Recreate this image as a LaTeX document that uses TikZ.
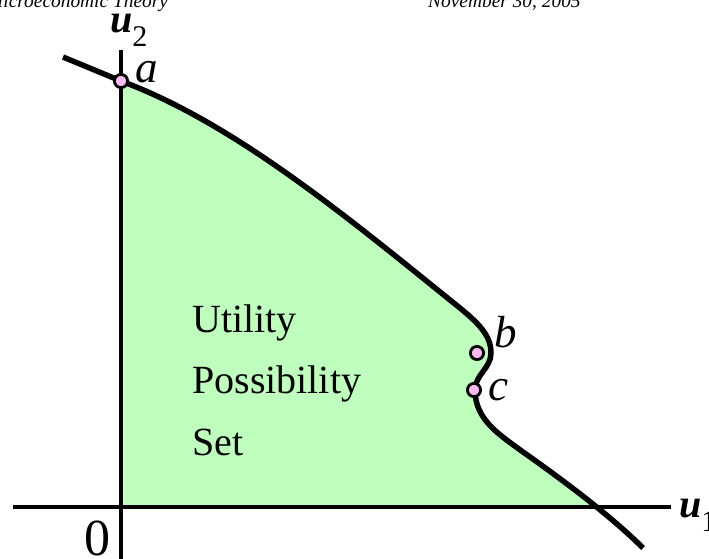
\documentclass[tikz,border=0pt]{standalone}
\usepackage{fontspec}
\setmainfont{Liberation Serif}
\definecolor{upsgreen}{RGB}{190,255,190}
\definecolor{dotpink}{RGB}{248,184,240}
\begin{document}
\begin{tikzpicture}[x=1pt,y=-1pt,
  axisline/.style={line width=4.5pt},
  frontierline/.style={line width=5.5pt, line join=round},
  ptdot/.style={circle, draw=black, fill=dotpink, line width=2.8pt, minimum size=13.2pt, inner sep=0pt},
  ptlabel/.style={anchor=base west, inner sep=0pt, font=\fontsize{45}{45}\selectfont\itshape},
  setlabel/.style={anchor=base west, inner sep=0pt, font=\fontsize{40}{40}\selectfont},
  axlabel/.style={anchor=base west, inner sep=0pt, font=\fontsize{40}{40}\selectfont},
  header/.style={anchor=base west, inner sep=0pt, font=\fontsize{19.4}{19.4}\selectfont\itshape}
]
\useasboundingbox (0,0) rectangle (709,559);
% filled set
\begin{scope}
  \clip (121,0) rectangle (709,507);
  \fill[upsgreen] (0,57) -- (63,57) -- (121,81)
     .. controls (231,122) and (340,211) .. (450,300)
     .. controls (475,320) and (491,333) .. (491,353)
     .. controls (491,368) and (475,375) .. (475,390)
     .. controls (475,420) and (500,435) .. (523,452)
     .. controls (560,478) and (610,515) .. (643,548)
     -- (0,548) -- cycle;
\end{scope}
% axes
\coordinate (yb) at (121,559);
\coordinate (yt) at (121,50);
\coordinate (xl) at (13,507);
\coordinate (xr) at (671,507);
\draw[axisline] (yb) -- (yt);
\draw[axisline] (xl) -- (xr);
% frontier
\draw[frontierline] (63,57) -- (121,81)
     .. controls (231,122) and (340,211) .. (450,300)
     .. controls (475,320) and (491,333) .. (491,353)
     .. controls (491,368) and (475,375) .. (475,390)
     .. controls (475,420) and (500,435) .. (523,452)
     .. controls (560,478) and (610,515) .. (643,548);
% points
\node[ptdot] (pa) at (121,81) {};
\node[ptdot] (pb) at (477,353) {};
\node[ptdot] (pc) at (474,390) {};
\node[ptlabel] (la) at (135,83) {a};
\node[ptlabel] (lb) at (494,347) {b};
\node[ptlabel] (lc) at (488,400) {c};
% set text
\node[setlabel] (t1) at (192,332) {Utility};
\node[setlabel] (t2) at (192,393) {Possibility};
\node[setlabel] (t3) at (192,455) {Set};
% axis labels
\node[axlabel] (u2) at (110,33) {{\bfseries\itshape u}\raisebox{-14pt}{\fontsize{30}{30}\selectfont 2}};
\node[axlabel] (u1) at (679,517) {{\bfseries\itshape u}\raisebox{-14pt}{\fontsize{30}{30}\selectfont 1}};
\node[anchor=base west, inner sep=0pt, font=\fontsize{52}{52}\selectfont] (zero) at (84,555) {0};
% header
\node[header] (h1) at (-13,8) {Microeconomic Theory};
\node[header] (h2) at (428,8) {November 30, 2005};
\end{tikzpicture}
\end{document}
